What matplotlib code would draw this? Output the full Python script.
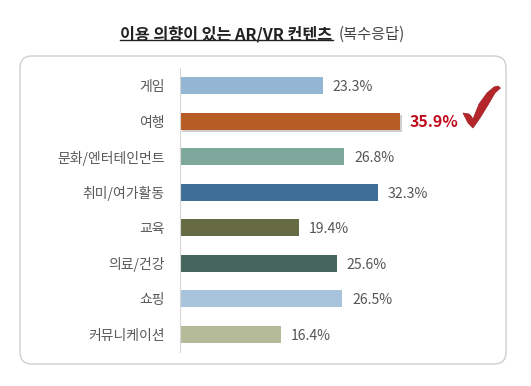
import matplotlib
matplotlib.use('Agg')
import matplotlib.pyplot as plt
import matplotlib.patheffects as pe
from matplotlib.patches import FancyBboxPatch, Polygon

plt.rcParams['font.family'] = ['Noto Sans CJK KR', 'DejaVu Sans']

categories = ['게임', '여행', '문화/엔터테인먼트', '취미/여가활동', '교육', '의료/건강', '쇼핑', '커뮤니케이션']
values = [23.3, 35.9, 26.8, 32.3, 19.4, 25.6, 26.5, 16.4]
colors = ['#94B5D3', '#B85C25', '#7FA89C', '#3F6E96', '#666B43', '#46655C', '#A8C4DC', '#B5BB98']
highlight = 1

W, H = 531, 386
fig = plt.figure(figsize=(W / 100, H / 100), dpi=100, facecolor='white')

# background layer in pixel coords, y going down like the picture
bg = fig.add_axes([0, 0, 1, 1])
bg.set_xlim(0, W)
bg.set_ylim(H, 0)
bg.axis('off')
box = FancyBboxPatch((20, 56), 486, 308, boxstyle='round,pad=0,rounding_size=12',
                     fc='white', ec='#CFCFCF', lw=1.0)
bg.add_patch(box)

# title, two pieces
bg.text(120, 34, '이용 의향이 있는 AR/VR 컨텐츠', fontsize=11.7, fontweight='bold',
        color='#222222', ha='left', va='center')
bg.plot([120, 333], [39.5, 39.5], color='#222222', lw=1)
bg.text(339, 34, '(복수응답)', fontsize=11, color='#444444', ha='left', va='center')

# chart axes: x=180..480, y=67.7..352.3 px
ax = fig.add_axes([180 / W, 1 - 352.3 / H, 300 / W, 284.6 / H])
ax.patch.set_alpha(0)
px_per_unit = 6.13
ax.set_xlim(0, 300 / px_per_unit)
ypos = list(range(len(categories)))
ax.set_ylim(len(categories) - 0.5, -0.5)
bars = ax.barh(ypos, values, height=0.48, color=colors, linewidth=0)
bars[highlight].set_path_effects([pe.SimplePatchShadow(offset=(1.5, -1.5), shadow_rgbFace='#777777', alpha=0.35),
                                  pe.Normal()])

for i, v in enumerate(values):
    if i == highlight:
        ax.annotate(f'{v}%', (v, i), xytext=(7, -1), textcoords='offset points', va='center',
                    fontsize=11.5, fontweight='bold', color='#C00D1E')
    else:
        ax.annotate(f'{v}%', (v, i), xytext=(7, -1), textcoords='offset points', va='center',
                    fontsize=10.1, color='#555555')

for s in ['top', 'right', 'bottom']:
    ax.spines[s].set_visible(False)
ax.spines['left'].set_color('#D6D6D6')
ax.set_xticks([])
ax.set_yticks(ypos)
ax.set_yticklabels(categories, fontsize=10, color='#595959')
ax.tick_params(axis='y', length=0, pad=11)

# red tick decoration next to the highlighted value
check = [(463, 113), (469, 114), (471, 116), (473, 119), (479, 104), (487, 93), (494, 87), (498, 86),
         (500.5, 88), (495, 93), (488, 105), (480, 118), (473, 128), (468, 123)]
bg.add_patch(Polygon(check, closed=True, fc='#B5262B', ec='#9E2024', lw=0.5))

fig.savefig('out.png', dpi=100)
